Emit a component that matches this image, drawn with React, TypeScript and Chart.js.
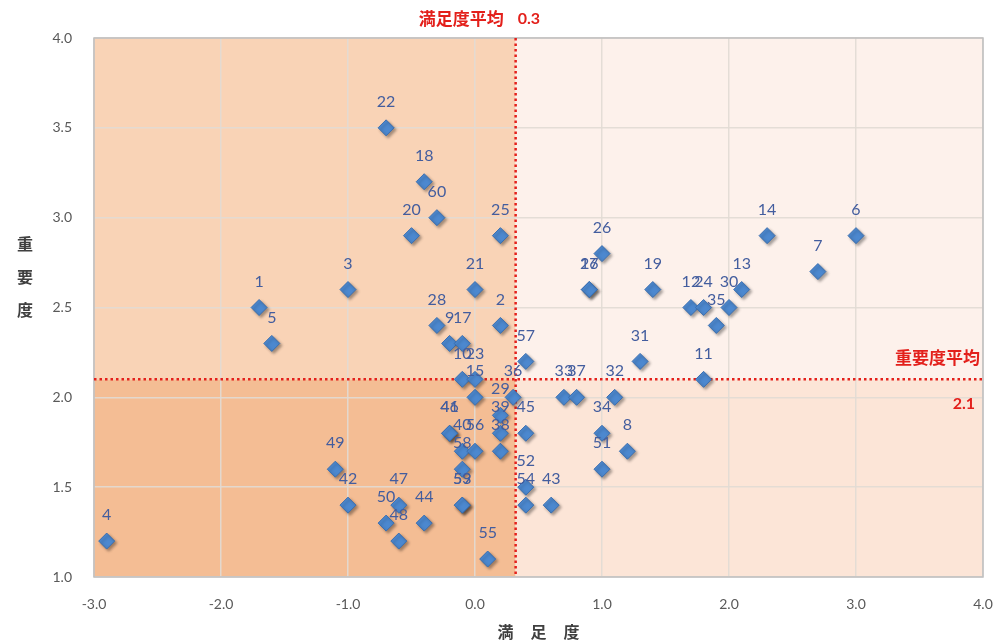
import React, { useEffect, useRef } from "react";
import { Chart, registerables } from "chart.js";

Chart.register(...registerables);

const ids = [
  "1","2","3","4","5","6","7","8","9","10",
  "11","12","13","14","15","16","17","18","19","20",
  "21","22","23","24","25","26","27","28","29","30",
  "31","32","33","34","35","36","37","38","39","40",
  "41","42","43","44","45","46","47","48","49","50",
  "51","52","53","54","55","56","57","58","59","60",
];
const satisfaction = [
  -1.7, 0.2, -1.0, -2.9, -1.6, 3.0, 2.7, 1.2, -0.2, -0.1,
  1.8, 1.7, 2.1, 2.3, 0.0, 0.9, -0.1, -0.4, 1.4, -0.5,
  0.0, -0.7, 0.0, 1.8, 0.2, 1.0, 0.9, -0.3, 0.2, 2.0,
  1.3, 1.1, 0.7, 1.0, 1.9, 0.3, 0.8, 0.2, 0.2, -0.1,
  -0.2, -1.0, 0.6, -0.4, 0.4, -0.2, -0.6, -0.6, -1.1, -0.7,
  1.0, 0.4, -0.1, 0.4, 0.1, 0.0, 0.4, -0.1, -0.1, -0.3,
];
const importance = [
  2.5, 2.4, 2.6, 1.2, 2.3, 2.9, 2.7, 1.7, 2.3, 2.1,
  2.1, 2.5, 2.6, 2.9, 2.0, 2.6, 2.3, 3.2, 2.6, 2.9,
  2.6, 3.5, 2.1, 2.5, 2.9, 2.8, 2.6, 2.4, 1.9, 2.5,
  2.2, 2.0, 2.0, 1.8, 2.4, 2.0, 2.0, 1.7, 1.8, 1.7,
  1.8, 1.4, 1.4, 1.3, 1.8, 1.8, 1.4, 1.2, 1.6, 1.3,
  1.6, 1.5, 1.4, 1.4, 1.1, 1.7, 2.2, 1.6, 1.4, 3.0,
];
const satisfactionAvg = 0.32;
const importanceAvg = 2.1;
const xTitle = ["満", "足", "度"];
const yTitle = ["重", "要", "度"];
const satAvgLabel = "満足度平均";
const impAvgLabel = "重要度平均";

const RED = "#E3201B";
const LABEL_BLUE = "#435D9E";
const CJK = '"Noto Sans CJK JP", sans-serif';

export default function App() {
  const ref = useRef<HTMLCanvasElement>(null);

  useEffect(() => {
    const canvas = ref.current;
    if (!canvas) return;

    const decor = {
      id: "decor",
      beforeDraw(chart: any) {
        const { ctx, chartArea: a, scales } = chart;
        const mx = scales.x.getPixelForValue(satisfactionAvg);
        const my = scales.y.getPixelForValue(importanceAvg);
        ctx.save();
        ctx.fillStyle = "#ffffff";
        ctx.fillRect(0, 0, chart.width, chart.height);
        ctx.fillStyle = "#F9D3B6";
        ctx.fillRect(a.left, a.top, mx - a.left, my - a.top);
        ctx.fillStyle = "#F4BD94";
        ctx.fillRect(a.left, my, mx - a.left, a.bottom - my);
        ctx.fillStyle = "#FDF1EB";
        ctx.fillRect(mx, a.top, a.right - mx, my - a.top);
        ctx.fillStyle = "#FCE5D7";
        ctx.fillRect(mx, my, a.right - mx, a.bottom - my);
        ctx.restore();
      },
      beforeDatasetsDraw(chart: any) {
        const { ctx, chartArea: a, scales } = chart;
        const mx = scales.x.getPixelForValue(satisfactionAvg);
        const my = scales.y.getPixelForValue(importanceAvg);
        ctx.save();
        ctx.strokeStyle = "#BFBFBF";
        ctx.lineWidth = 1.5;
        ctx.strokeRect(a.left, a.top, a.right - a.left, a.bottom - a.top);
        ctx.strokeStyle = RED;
        ctx.lineWidth = 2.5;
        ctx.setLineDash([2.5, 3]);
        ctx.beginPath();
        ctx.moveTo(mx, a.top);
        ctx.lineTo(mx, a.bottom);
        ctx.stroke();
        ctx.beginPath();
        ctx.moveTo(a.left, my);
        ctx.lineTo(a.right, my);
        ctx.stroke();
        ctx.setLineDash([]);
        ctx.fillStyle = RED;
        ctx.font = `bold 17px ${CJK}`;
        ctx.textBaseline = "middle";
        ctx.textAlign = "right";
        ctx.fillText(satAvgLabel, mx - 12, 19);
        ctx.textAlign = "left";
        ctx.font = "bold 16px Lato, sans-serif";
        ctx.fillText(satisfactionAvg.toFixed(1), mx + 2, 19);
        ctx.textAlign = "right";
        ctx.font = `bold 17px ${CJK}`;
        ctx.fillText(impAvgLabel, a.right - 3, my - 22);
        ctx.font = "bold 16px Lato, sans-serif";
        ctx.fillText(importanceAvg.toFixed(1), a.right - 8, my + 24);
        ctx.fillStyle = "#404040";
        ctx.font = `bold 16px ${CJK}`;
        ctx.textAlign = "center";
        const cx = (a.left + a.right) / 2;
        xTitle.forEach((c, i) => ctx.fillText(c, cx + (i - 1) * 33, 632));
        yTitle.forEach((c, i) => ctx.fillText(c, 25, 244 + i * 33));
        ctx.restore();
        ctx.save();
        ctx.shadowColor = "rgba(0,0,0,0.35)";
        ctx.shadowBlur = 3;
        ctx.shadowOffsetX = 2;
        ctx.shadowOffsetY = 2;
      },
      afterDatasetsDraw(chart: any) {
        const { ctx } = chart;
        ctx.restore();
        const meta = chart.getDatasetMeta(0);
        ctx.save();
        ctx.fillStyle = LABEL_BLUE;
        ctx.font = "16px Lato, sans-serif";
        ctx.textAlign = "center";
        ctx.textBaseline = "middle";
        meta.data.forEach((pt: any, i: number) => {
          ctx.fillText(ids[i], pt.x, pt.y - 26);
        });
        ctx.restore();
      },
    };

    const chart = new Chart(canvas, {
      type: "scatter",
      data: {
        datasets: [
          {
            data: satisfaction.map((x, i) => ({ x, y: importance[i] })),
            pointStyle: "rectRot",
            pointRadius: 8,
            pointBackgroundColor: "#4C88CF",
            pointBorderColor: "#3B6FB0",
            pointBorderWidth: 1,
          },
        ],
      },
      options: {
        responsive: false,
        animation: false,
        layout: { padding: { left: 0, top: 38, right: 12, bottom: 0 } },
        plugins: { legend: { display: false }, tooltip: { enabled: false } },
        scales: {
          x: {
            type: "linear",
            min: -3,
            max: 4,
            afterFit: (s: any) => {
              s.height = 67;
              s.paddingLeft = 0;
              s.paddingRight = 0;
            },
            ticks: {
              stepSize: 1,
              padding: 19,
              color: "#595959",
              font: { family: "Lato, sans-serif", size: 14 },
              callback: (v: any) => Number(v).toFixed(1),
            },
            grid: { color: "rgba(225,218,212,0.9)", lineWidth: 1.5, drawTicks: false },
            border: { display: false },
          },
          y: {
            type: "linear",
            min: 1,
            max: 4,
            afterFit: (s: any) => {
              s.width = 94;
              s.paddingTop = 0;
              s.paddingBottom = 0;
            },
            ticks: {
              stepSize: 0.5,
              padding: 22,
              color: "#595959",
              font: { family: "Lato, sans-serif", size: 14 },
              callback: (v: any) => Number(v).toFixed(1),
            },
            grid: { color: "rgba(225,218,212,0.9)", lineWidth: 1.5, drawTicks: false },
            border: { display: false },
          },
        },
      },
      plugins: [decor],
    });
    return () => chart.destroy();
  }, []);

  return (
    <div style={{ position: "absolute", left: 0, top: 0, width: 995, height: 644 }}>
      <canvas ref={ref} width={995} height={644} style={{ display: "block" }} />
    </div>
  );
}
